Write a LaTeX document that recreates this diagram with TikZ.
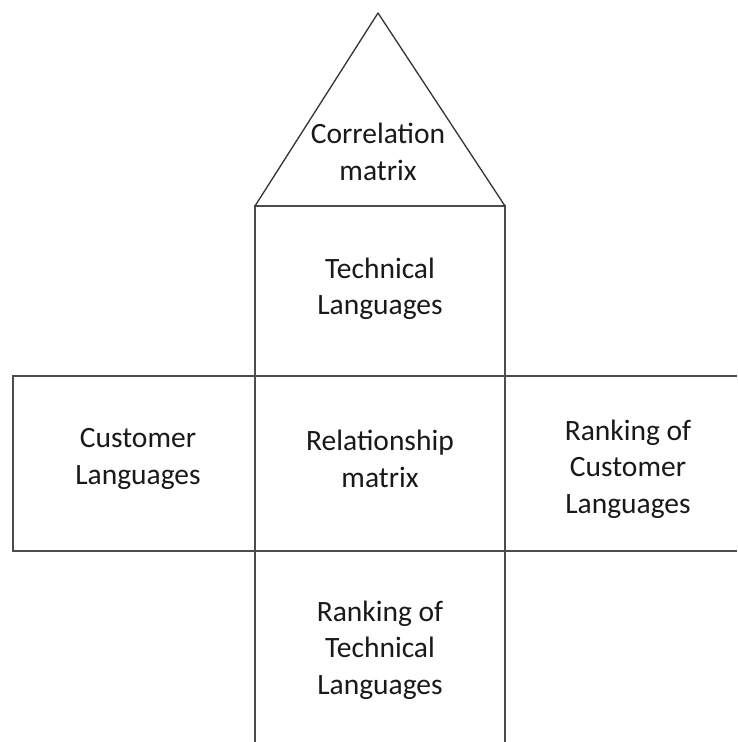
\documentclass[tikz,border=0pt]{standalone}
\usepackage{fontspec}
\setmainfont{Carlito}
\begin{document}
\begin{tikzpicture}[x=1pt,y=-1pt,
  frame/.style={draw=black!70, line width=2.4pt},
  roof/.style={draw=black!80, line width=1.3pt, line join=round},
  label/.style={align=center, text=black!90, font=\fontsize{29.5}{36.5}\selectfont, inner sep=0pt}]
  \useasboundingbox[fill=white] (0,0) rectangle (737,742);
  % corner points of the house
  \coordinate (apex) at (378,13);
  \coordinate (eaveL) at (255,206);
  \coordinate (eaveR) at (505,206);
  \coordinate (colBL) at (255,742);
  \coordinate (colBR) at (505,742);
  \coordinate (rowTL) at (13,376);
  \coordinate (rowBL) at (13,551);
  \coordinate (rowTR) at (737,376);
  \coordinate (rowBR) at (737,551);
  % central column and the wide middle row
  \draw[frame] (colBL) -- (eaveL) -- (eaveR) -- (colBR);
  \draw[frame] (rowTR) -- (rowTL) -- (rowBL) -- (rowBR);
  % roof
  \draw[roof] (eaveL) -- (apex) -- (eaveR);
  % texts
  \node[label] (corr) at (378,152) {Correlation\\matrix};
  \node[label] (tech) at (380,289) {Technical\\Languages};
  \node[label] (cust) at (138,459) {Customer\\Languages};
  \node[label] (rel) at (380,459) {Relationship\\matrix};
  \node[label] (rankc) at (628,469) {Ranking of\\Customer\\Languages};
  \node[label] (rankt) at (380,650) {Ranking of\\Technical\\Languages};
\end{tikzpicture}
\end{document}
